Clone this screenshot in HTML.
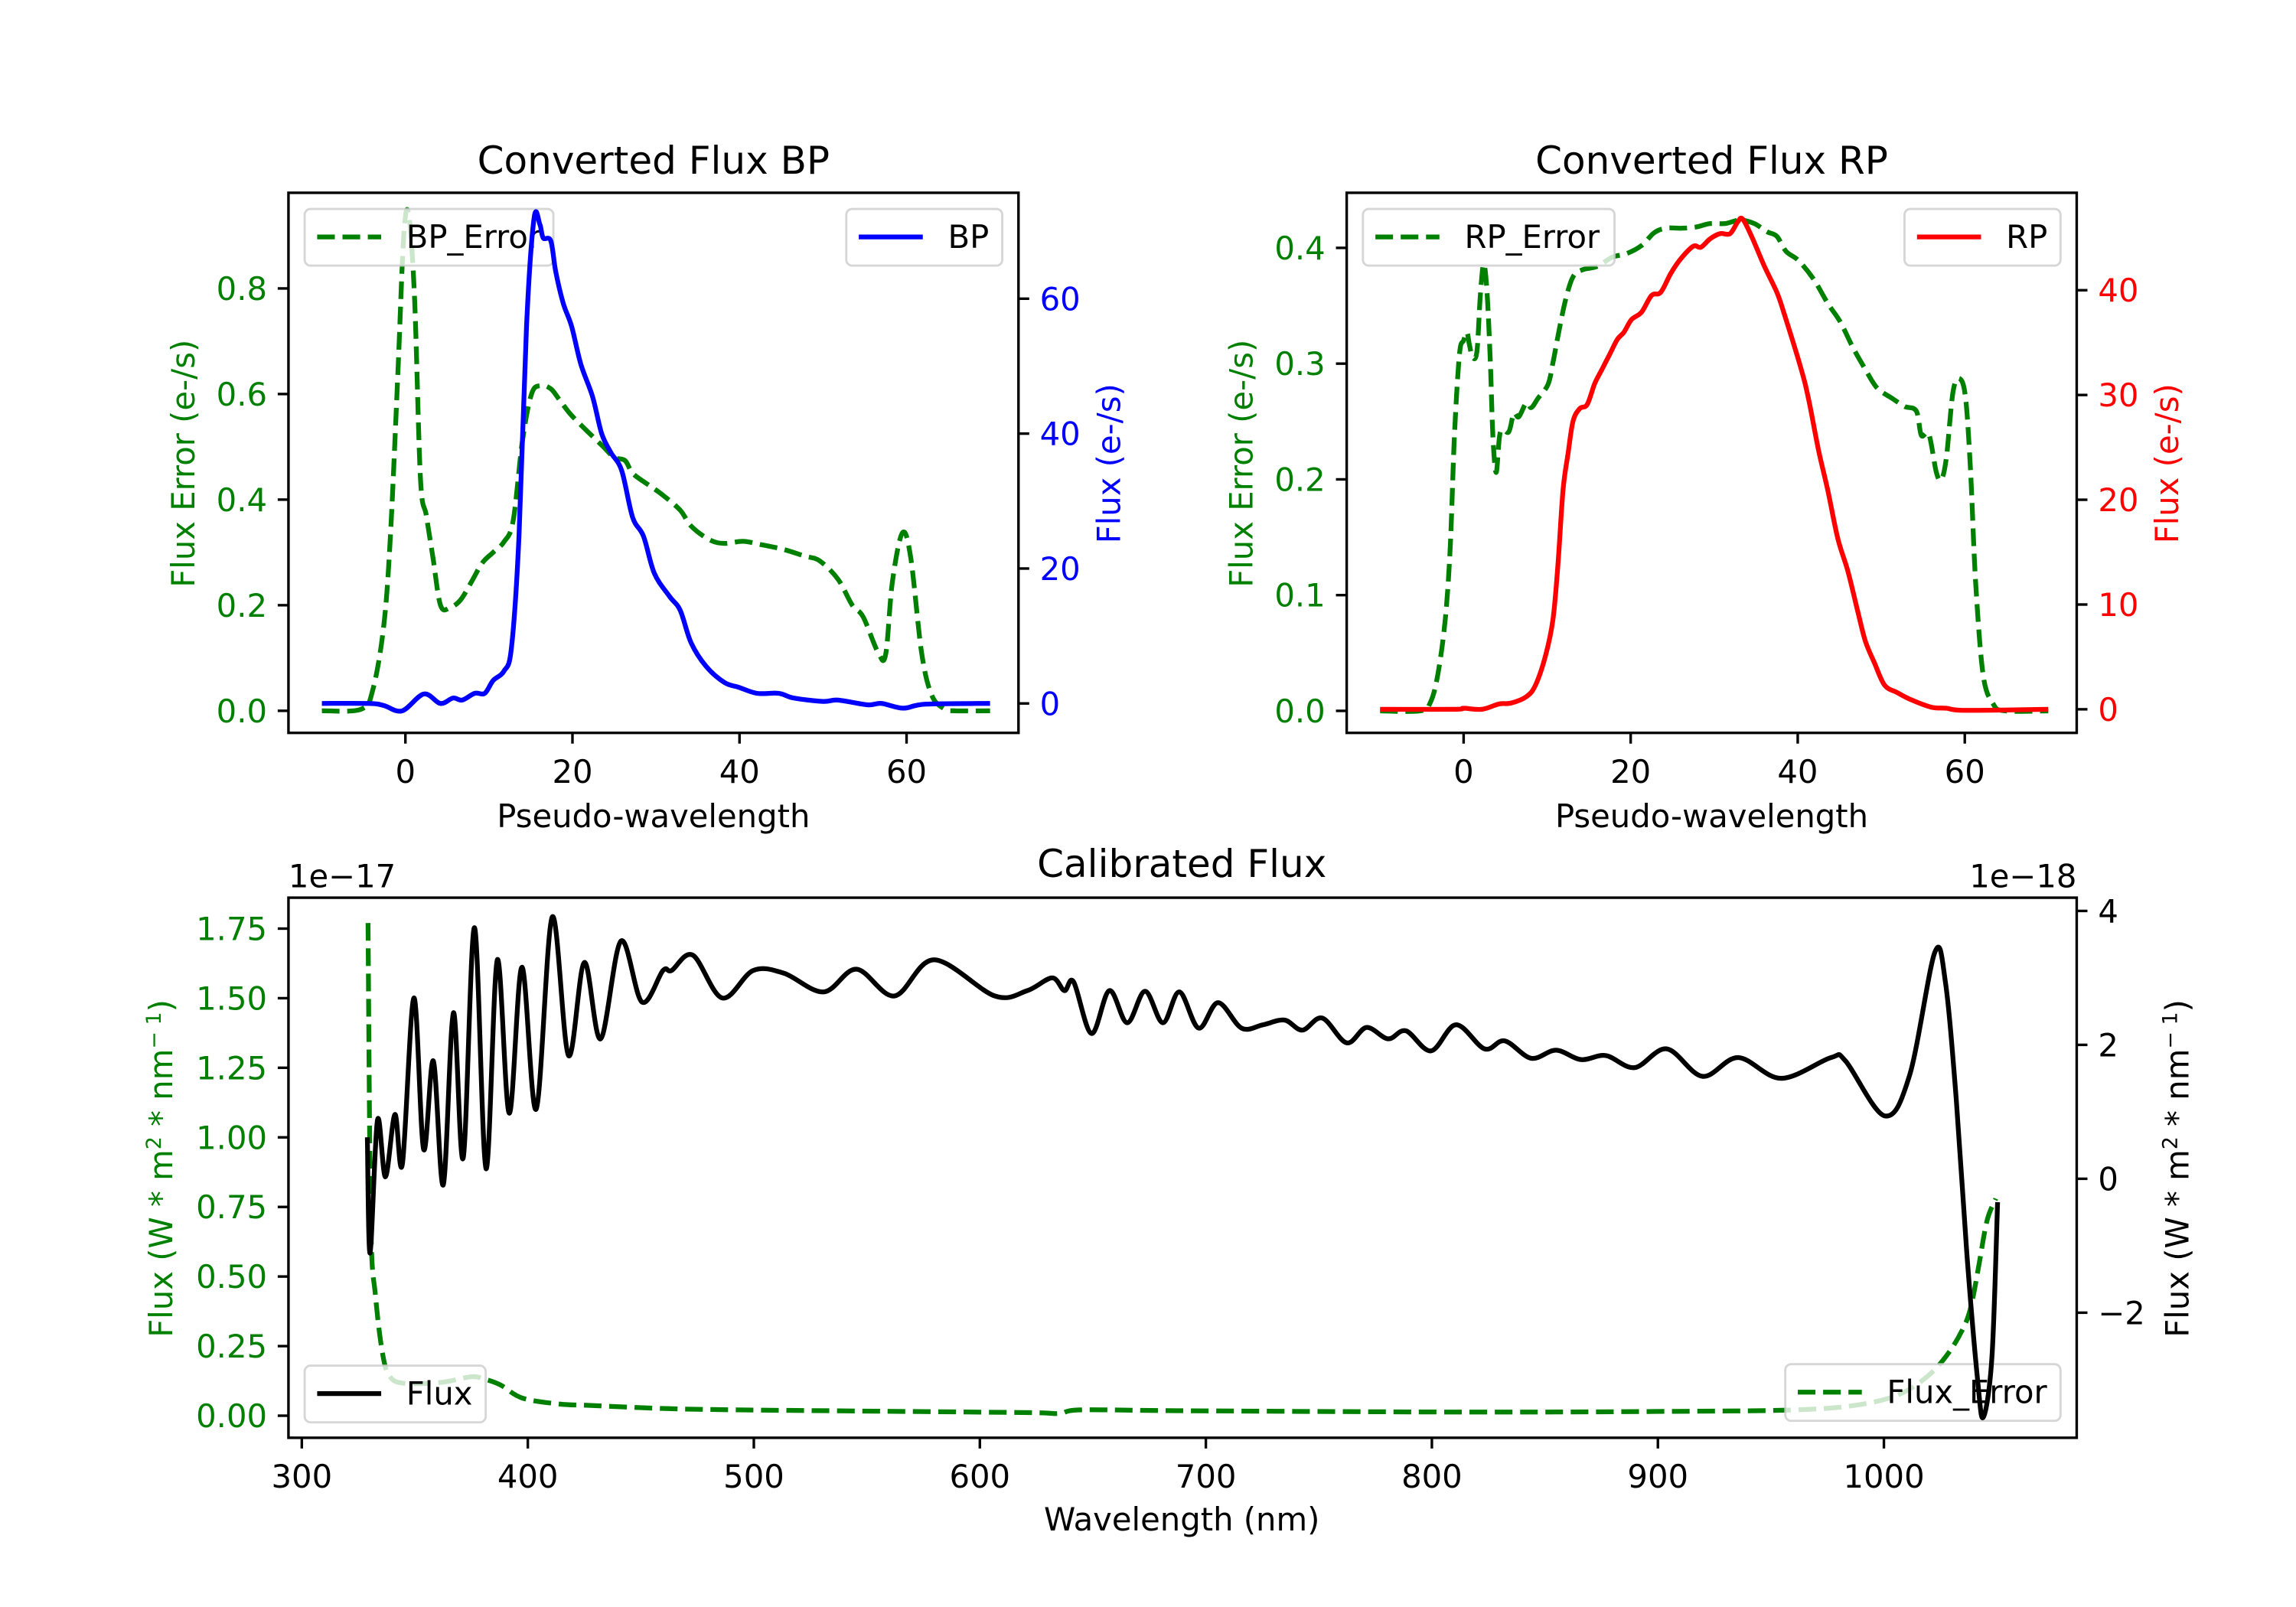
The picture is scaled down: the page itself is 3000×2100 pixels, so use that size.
<!DOCTYPE html>
<html><head><meta charset="utf-8"><style>
html,body{margin:0;padding:0;background:#fff;}
svg{display:block;font-family:"DejaVu Sans","Liberation Sans",sans-serif;}
</style></head><body>
<svg id="fig" xmlns="http://www.w3.org/2000/svg" width="3000" height="2100" viewBox="0 0 1560 1092" preserveAspectRatio="none">
<rect x="0" y="0" width="1560" height="1092" fill="#fff"/>
</svg>
<script>
// ---------- BP data ----------
const bpFluxX = [-10,-4.4,-2.6,-0.4,2.2,4.2,5.7,6.8,8.3,9.5,10.5,11.8,12.7,13.6,14.5,15.4,16.1,16.5,17.4,18,18.9,19.9,21,22.4,23.5,24.6,25.9,27.2,28.5,29.8,31.6,32.9,34.2,36,38.2,39.9,42.1,44.7,46.5,50,51.8,55.3,57,59.6,62.3,70];
const bpFlux = [0,0,-0.3,-1.1,1.4,0,0.8,0.5,1.5,1.5,3.4,4.8,8.3,24.8,55.9,71.9,71,69,68.6,64,59.3,55.9,50.3,45.5,40,37.2,34.5,27.6,24.8,19.3,15.9,13.8,9,5.5,3.1,2.4,1.5,1.5,0.8,0.3,0.5,-0.2,0,-0.7,-0.1,0];
const bpErrX = [-10,-5.3,-3.9,-2.6,-1.8,-0.9,-0.2,0.4,1.1,1.8,2.5,3.3,4.2,5.3,6.6,7.9,9.2,10.5,11.8,12.9,14,15.1,16.2,17.4,18.4,19.7,21.1,22.4,23.7,25,26.3,27.2,28.9,30.7,32.9,34.2,36.4,38.2,40.4,42.5,45.2,47.8,49.6,51.8,53.5,54.8,56.6,57.5,58.3,59.5,60.5,61.8,63,64.5,65.8,70];
const bpErr = [0,0.003,0.04,0.16,0.33,0.64,0.9,0.94,0.78,0.44,0.37,0.29,0.2,0.195,0.21,0.244,0.28,0.30,0.32,0.36,0.51,0.6,0.616,0.61,0.59,0.563,0.54,0.52,0.50,0.48,0.474,0.45,0.43,0.41,0.38,0.35,0.324,0.317,0.321,0.315,0.306,0.293,0.284,0.249,0.2,0.178,0.11,0.107,0.244,0.337,0.29,0.11,0.03,0.004,0,0];
// ---------- RP data ----------
const rpFluxX = [-10,-1.1,0,2.2,4.2,5.7,7.5,8.6,9.8,10.7,11.3,11.9,12.5,13.1,13.9,14.8,15.7,16.6,17.5,18.4,19.2,20.1,21.3,22.5,23.6,24.8,26,27.5,28.4,29.5,30.7,31.9,32.8,33.4,34.5,36,37.5,38.4,40.4,41.3,42.5,43.6,44.8,46,47.2,48.1,49.2,50.4,51.9,53.6,56,57.8,60.1,70];
const rpFlux = [0,0,0.1,0,0.5,0.6,1.2,2.3,5.1,8.6,13.9,20.9,24.4,27.5,28.7,29.1,31.1,32.5,33.9,35.3,36,37.2,37.9,39.5,39.8,41.6,43,44.2,44.1,44.9,45.4,45.4,46.5,46.8,45.1,42.3,39.8,37.7,32.5,29.6,24.7,20.9,16.3,13.2,9.3,6.5,4.4,2.3,1.6,0.9,0.2,0.1,-0.1,0];
const rpErrX = [-10,-5.2,-4,-3.1,-2.2,-1.6,-1.1,-0.5,0,0.4,0.7,1.1,1.6,2,2.4,2.8,3.2,3.5,3.9,4.4,5.4,6,6.6,7.5,8.1,8.9,10.1,10.7,11.3,12.2,13.1,14.2,16,17.8,19.5,21.3,22.8,24.2,26,27.8,29.5,31.3,33.1,34.8,36.3,37.5,38.6,40.1,41.9,43.6,45.1,46.6,48.1,49.5,51.3,52.8,54.2,54.8,55.7,56.6,57.2,57.8,58.6,59.4,60.1,60.7,61.3,62.2,63.4,64.8,70];
const rpErr = [0,0,0.007,0.031,0.079,0.142,0.238,0.308,0.32,0.327,0.316,0.305,0.311,0.359,0.386,0.362,0.301,0.238,0.206,0.241,0.241,0.257,0.254,0.266,0.262,0.27,0.282,0.301,0.324,0.355,0.375,0.381,0.384,0.392,0.395,0.402,0.413,0.417,0.417,0.418,0.421,0.421,0.424,0.421,0.414,0.41,0.397,0.389,0.373,0.352,0.336,0.314,0.295,0.279,0.27,0.263,0.259,0.238,0.239,0.206,0.2,0.219,0.276,0.287,0.27,0.206,0.111,0.031,0.006,0,0];
// ---------- Calibrated data ----------
const calX = [329.0,330.2,333.5,337,341.2,344.5,349.6,353.9,358.2,362.6,367.1,371.4,376.4,381.5,386.5,391.8,397.4,403.7,410.8,418,425,432.2,441.2,450.5,459.8,463.6,473,486,499.7,513.3,530.8,545.4,562.2,579.7,606.6,621,632,637.4,641.5,649.4,657.3,665.2,673.1,681,688.3,696.8,705.4,715.8,725.3,734.8,742.7,751.5,762.3,771.1,780.6,788.5,799.6,810.7,823.3,832.2,843.9,854.9,866,877,889.7,903.9,919.7,935.5,954.5,976.6,983,1000.3,1011.4,1022.5,1027.2,1032,1036.7,1041.5,1044,1047.8,1050.3];
const calFlux = [0.62,-1.11,0.88,0.03,0.96,0.22,2.70,0.44,1.76,-0.09,2.48,0.31,3.75,0.15,3.27,0.98,3.16,1.04,3.91,1.84,3.23,2.09,3.55,2.64,3.11,3.11,3.34,2.70,3.11,3.07,2.79,3.13,2.73,3.27,2.73,2.81,3.00,2.81,2.94,2.17,2.81,2.33,2.80,2.33,2.79,2.25,2.63,2.25,2.30,2.37,2.22,2.40,2.03,2.26,2.09,2.21,1.91,2.30,1.94,2.06,1.80,1.92,1.78,1.84,1.66,1.94,1.53,1.81,1.50,1.81,1.76,0.94,1.55,3.38,2.94,1.19,-1.12,-3.02,-3.56,-2.66,-0.35];
const calErrX = [329.3,330.5,332.6,335.8,339,345.6,362,375,381.4,388,397.7,414,427,459.5,492,557,622,635,645,687,817.7,915,961,987,1006,1019.5,1029,1036,1039,1042,1045.6,1049.5];
const calErr = [1.77,0.70,0.43,0.22,0.14,0.116,0.12,0.14,0.13,0.11,0.063,0.042,0.037,0.026,0.021,0.016,0.011,0.008,0.021,0.018,0.013,0.016,0.021,0.037,0.074,0.143,0.23,0.33,0.41,0.54,0.70,0.78];
// ---------- tick labels ----------
const pseudoTicks = [0,20,40,60];
const bpErrTicks = [0,0.2,0.4,0.6,0.8];
const bpFluxTicks = [0,20,40,60];
const rpErrTicks = [0,0.1,0.2,0.3,0.4];
const rpFluxTicks = [0,10,20,30,40];
const wlTicks = [300,400,500,600,700,800,900,1000];
const calErrTicks = [0,0.25,0.5,0.75,1.0,1.25,1.5,1.75];
const calFluxTicks = [-2,0,2,4];

const NS = 'http://www.w3.org/2000/svg';
const svg = document.getElementById('fig');
function mk(tag, attrs, parent){const e=document.createElementNS(NS,tag);for(const k in attrs)e.setAttribute(k,attrs[k]);(parent||svg).appendChild(e);return e;}
function lin(d0,d1,r0,r1){return v=>r0+(v-d0)*(r1-r0)/(d1-d0);}
function fmt(v,dec){return (v<0?'\u2212':'')+Math.abs(v).toFixed(dec);}
function smoothPath(xs,ys,sx,sy){
  const p=xs.map((x,i)=>[sx(x),sy(ys[i])]);
  let d='M'+p[0][0].toFixed(2)+','+p[0][1].toFixed(2);
  for(let i=0;i<p.length-1;i++){
    const p0=p[Math.max(0,i-1)],p1=p[i],p2=p[i+1],p3=p[Math.min(p.length-1,i+2)];
    const c1=[p1[0]+(p2[0]-p0[0])/6,p1[1]+(p2[1]-p0[1])/6];
    const c2=[p2[0]-(p3[0]-p1[0])/6,p2[1]-(p3[1]-p1[1])/6];
    d+='C'+c1[0].toFixed(2)+','+c1[1].toFixed(2)+' '+c2[0].toFixed(2)+','+c2[1].toFixed(2)+' '+p2[0].toFixed(2)+','+p2[1].toFixed(2);
  }
  return d;
}
const FS=21.7, TL=7.3;

function panel(o){
  const g=mk('g',{});
  
  
  const cid='clip-'+o.name;
  const cp=mk('clipPath',{id:cid},g);
  mk('rect',{x:o.L,y:o.T,width:o.R-o.L,height:o.B-o.T},cp);
  const sx=lin(o.xd[0],o.xd[1],o.L,o.R);
  const syL=lin(o.yl[0],o.yl[1],o.B,o.T);
  const syR=lin(o.yr[0],o.yr[1],o.B,o.T);
  const l1=mk('path',{d:smoothPath(o.s1x,o.s1y,sx,syL),fill:'none',stroke:o.c1,'stroke-width':o.w1||3.25,'stroke-dasharray':o.dash1||'12,5.2','clip-path':'url(#'+cid+')','stroke-linejoin':'round'},g);
  
  
  function legend(x,y,w,label,color,dash,nm,wid){
    const lg=mk('g',{},g);
    
    
    mk('rect',{x:x,y:y,width:w,height:38.5,rx:4,fill:'#fff','fill-opacity':0.8,stroke:'#cccccc','stroke-opacity':0.8,'stroke-width':1.5},lg);
    const ls=mk('line',{x1:x+8.5,x2:x+52,y1:y+19,y2:y+19,stroke:color,'stroke-width':wid||3.25},lg);
    if(dash) ls.setAttribute('stroke-dasharray',dash);
    const t=mk('text',{x:x+69,y:y+26.5,'font-size':FS,fill:'#000'},lg);
    t.textContent=label;
  }
  if(o.leg1First){ o.leg1First(legend); }
  const l2=mk('path',{d:smoothPath(o.s2x,o.s2y,sx,syR),fill:'none',stroke:o.c2,'stroke-width':3.25,'clip-path':'url(#'+cid+')','stroke-linejoin':'round'},g);
  
  
  if(o.leg2){ o.leg2(legend); }
  const fr=mk('rect',{x:o.L,y:o.T,width:o.R-o.L,height:o.B-o.T,fill:'none',stroke:'#000','stroke-width':1.75},g);
  
  
  o.xt.forEach(v=>{
    const x=sx(v);
    mk('line',{x1:x,x2:x,y1:o.B,y2:o.B+TL,stroke:'#000','stroke-width':1.75},g);
    const t=mk('text',{x:x,y:o.B+34,'font-size':FS,'text-anchor':'middle',fill:'#000'},g);
    
    
    t.textContent=String(v);
  });
  o.ylt.forEach(v=>{
    const y=syL(v);
    mk('line',{x1:o.L-TL,x2:o.L,y1:y,y2:y,stroke:'#000','stroke-width':1.75},g);
    const t=mk('text',{x:o.L-14.5,y:y+7.8,'font-size':FS,'text-anchor':'end',fill:o.lc},g);
    
    
    t.textContent=fmt(v,o.ydec);
  });
  o.yrt.forEach(v=>{
    const y=syR(v);
    mk('line',{x1:o.R,x2:o.R+TL,y1:y,y2:y,stroke:'#000','stroke-width':1.75},g);
    const t=mk('text',{x:o.R+14.5,y:y+7.8,'font-size':FS,'text-anchor':'start',fill:o.rc},g);
    
    
    t.textContent=fmt(v,0);
  });
  return g;
}

panel({name:'bp-panel',L:196,R:692,T:131,B:498,xd:[-14,73.4],yl:[-0.0418,0.9812],yr:[-4.36,75.7],
  s1x:bpErrX,s1y:bpErr,c1:'#008000',s1name:'bp-error-line',s2x:bpFluxX,s2y:bpFlux,c2:'#0000ff',s2name:'bp-flux-line',
  xt:pseudoTicks,ylt:bpErrTicks,yrt:bpFluxTicks,ydec:1,lc:'#008000',rc:'#0000ff',
  leg1First:lg=>lg(207,142,169,'BP_Error','#008000','12,5.2','bp-error-legend'),
  leg2:lg=>lg(575,142,106,'BP','#0000ff',null,'bp-legend')});
panel({name:'rp-panel',L:915,R:1411,T:131,B:498,xd:[-14,73.4],yl:[-0.019,0.4476],yr:[-2.25,49.3],
  s1x:rpErrX,s1y:rpErr,c1:'#008000',s1name:'rp-error-line',s2x:rpFluxX,s2y:rpFlux,c2:'#ff0000',s2name:'rp-flux-line',
  xt:pseudoTicks,ylt:rpErrTicks,yrt:rpFluxTicks,ydec:1,lc:'#008000',rc:'#ff0000',
  leg1First:lg=>lg(926,142,171,'RP_Error','#008000','12,5.2','rp-error-legend'),
  leg2:lg=>lg(1294,142,106,'RP','#ff0000',null,'rp-legend')});
panel({name:'calibrated-panel',L:196,R:1411,T:610,B:977,xd:[294.1,1085.3],yl:[-0.0793,1.8611],yr:[-3.868,4.198],
  s1x:calErrX,s1y:calErr,c1:'#008000',w1:3.25,dash1:'12,5.2',s1name:'flux-error-line',s2x:calX,s2y:calFlux,c2:'#000',s2name:'flux-line',
  xt:wlTicks,ylt:calErrTicks,yrt:calFluxTicks,ydec:2,lc:'#008000',rc:'#000',
  leg1First:lg=>{lg(207,928,123,'Flux','#000',null,'flux-legend');lg(1213,927,187,'Flux_Error','#008000','12,5.2','flux-error-legend',3.25);}});

function txt(s,x,y,size,color,anchor,name,rot){
  const t=mk('text',{x:x,y:y,'font-size':size,fill:color,'text-anchor':anchor||'middle'});
  if(rot) t.setAttribute('transform','rotate(-90 '+x+' '+y+')');
  
  
  t.textContent=s; return t;
}
txt('Converted Flux BP',444,118,26,'#000','middle','bp-title');
txt('Converted Flux RP',1163,118,26,'#000','middle','rp-title');
txt('Calibrated Flux',803,596,26,'#000','middle','calibrated-title');
txt('Pseudo-wavelength',444,562,FS,'#000','middle','bp-x-axis-title');
txt('Pseudo-wavelength',1163,562,FS,'#000','middle','rp-x-axis-title');
txt('Wavelength (nm)',803,1040,FS,'#000','middle','wavelength-axis-title');
txt('Flux Error (e-/s)',132,315,FS,'#008000','middle','bp-left-y-axis-title',true);
txt('Flux (e-/s)',761,315,FS,'#0000ff','middle','bp-right-y-axis-title',true);
txt('Flux Error (e-/s)',851,315,FS,'#008000','middle','rp-left-y-axis-title',true);
txt('Flux (e-/s)',1480,315,FS,'#ff0000','middle','rp-right-y-axis-title',true);
txt('1e\u221217',196,603,FS,'#000','start','left-offset-label');
txt('1e\u221218',1411,603,FS,'#000','end','right-offset-label');
function unitLabel(x,y,color,name){
  const t=mk('text',{x:x,y:y,'font-size':FS,fill:color,'text-anchor':'middle',transform:'rotate(-90 '+x+' '+y+')'});
  
  
  t.innerHTML='Flux (W * m<tspan baseline-shift="super" font-size="14">2</tspan> * nm<tspan baseline-shift="super" font-size="14">\u2212 1</tspan>)';
}
unitLabel(117,794,'#008000','calibrated-left-y-axis-title');
unitLabel(1487,794,'#000','calibrated-right-y-axis-title');
</script>
</body></html>
